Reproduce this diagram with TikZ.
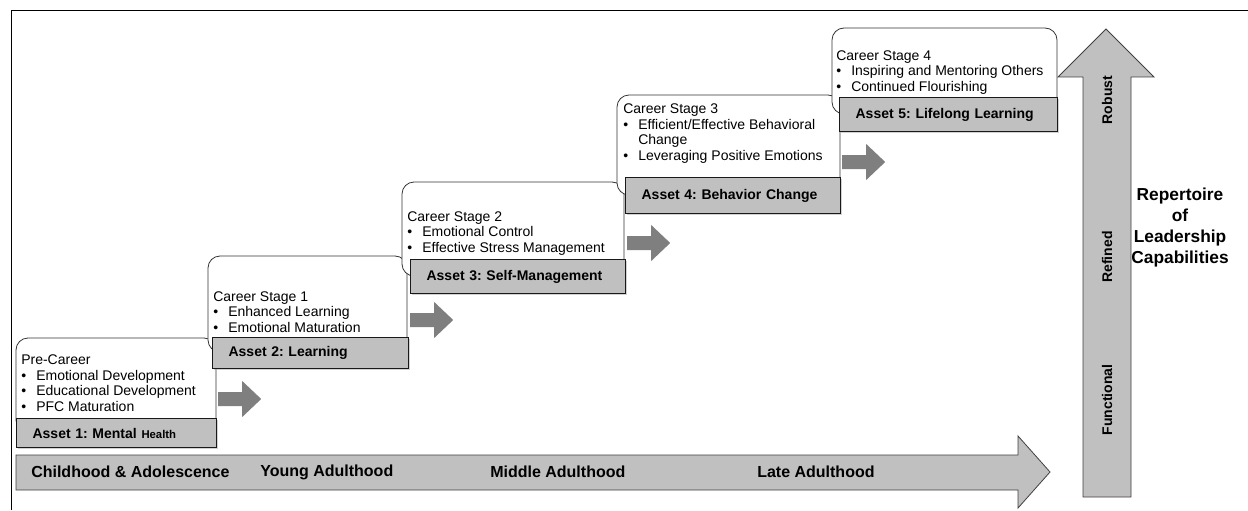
\documentclass[tikz,border=0pt]{standalone}
\usepackage{fontspec}
\setmainfont{Liberation Sans}
\usetikzlibrary{positioning,calc,shadows}
\definecolor{assetgray}{HTML}{C0C0C0}
\definecolor{stepgray}{HTML}{7F7F7F}
\newcommand{\bitem}[1]{\makebox[11.25pt][l]{\textbullet}#1}
\newcommand{\bcont}[1]{\hspace*{11.25pt}#1}
\frenchspacing
\tikzset{
  stagebox/.style={draw=black!80, fill=white, line width=0.6pt, rounded corners=9pt},
  stagetext/.style={font=\fontsize{10.5pt}{11.6pt}\selectfont, align=left,
    inner sep=0pt, anchor=base west},
  assetbox/.style={rectangle, draw=black!90, fill=assetgray, line width=0.9pt,
    font=\fontsize{10.5pt}{12pt}\selectfont\bfseries, align=left,
    inner xsep=12pt, inner ysep=0pt, text width=#1, anchor=north west,
    drop shadow={shadow xshift=0.8pt, shadow yshift=-0.8pt, fill=black!35}},
  bigarrow/.style={draw=black!75, fill=assetgray, line width=0.6pt},
  lifelabel/.style={font=\fontsize{12pt}{14pt}\selectfont\bfseries, anchor=west, inner sep=0pt},
  levellabel/.style={font=\fontsize{10.5pt}{12pt}\selectfont\bfseries, rotate=90, inner sep=0pt},
  steparrow/.pic={\fill[stepgray] (0,-7) -- (24,-7) -- (24,-18) -- (43,0) -- (24,18) -- (24,7) -- (0,7) -- cycle;}
}

\begin{document}
\begin{tikzpicture}[x=0.75pt, y=-0.75pt]
  \useasboundingbox (0,0) rectangle (1248,510);
  % frame
  \draw[line width=0.75pt] (11,510) -- (11,11) -- (1248,11);

  % life span arrow
  \draw[bigarrow] (16,455) -- (1018,455) -- (1018,436) -- (1050,472)
    -- (1018,508) -- (1018,490) -- (16,490) -- cycle;
  \node[lifelabel] (childhood) at (31,472) {Childhood \& Adolescence};
  \node[lifelabel] (young) at (260,472) {Young Adulthood};
  \node[lifelabel] (middle) at (490,472) {Middle Adulthood};
  \node[lifelabel] (late) at (757,472) {Late Adulthood};

  % capability arrow
  \draw[bigarrow] (1083,497) -- (1083,77) -- (1058,77) -- (1106,29)
    -- (1154,77) -- (1131,77) -- (1131,497) -- cycle;
  \node[levellabel] (robust) at (1107,100) {Robust};
  \node[levellabel] (refined) at (1107,257) {Refined};
  \node[levellabel] (functional) at (1107,400) {Functional};
  \node[font=\fontsize{13pt}{15.75pt}\selectfont\bfseries, align=center] (repertoire)
    at (1180,228) {Repertoire\\of\\Leadership\\Capabilities};

  % pre-career (text anchored at its last baseline)
  \draw[stagebox] (16,338) rectangle (216,432);
  \node[stagetext] (t0) at (21,411) {Pre-Career\\
    \bitem{Emotional Development}\\
    \bitem{Educational Development}\\
    \bitem{PFC Maturation}};
  \node[assetbox=126pt, minimum height=21.75pt] (a1) at (16,418)
    {Asset 1: Mental {\fontsize{8.5pt}{10pt}\selectfont Health}};
  \pic at ($(a1.north east)+(1,-19)$) {steparrow};

  % career stage 1
  \draw[stagebox] (208,256) rectangle (407,352);
  \node[stagetext] (t1) at (213,332) {Career Stage 1\\
    \bitem{Enhanced Learning}\\
    \bitem{Emotional Maturation}};
  \node[assetbox=123pt, minimum height=23.25pt] (a2) at (212,337) {Asset 2: Learning};
  \pic at ($(a2.north east)+(1,-17)$) {steparrow};

  % career stage 2
  \draw[stagebox] (402,182) rectangle (624,276);
  \node[stagetext] (t2) at (407,252) {Career Stage 2\\
    \bitem{Emotional Control}\\
    \bitem{Effective Stress Management}};
  \node[assetbox=137.25pt, minimum height=25.5pt] (a3) at (410,259) {Asset 3: Self-Management};
  \pic at ($(a3.north east)+(1,-16)$) {steparrow};

  % career stage 3
  \draw[stagebox] (617,95) rectangle (840,195);
  \node[stagetext] (t3) at (623,160) {Career Stage 3\\
    \bitem{Efficient/Effective Behavioral}\\
    \bcont{Change}\\
    \bitem{Leveraging Positive Emotions}};
  \node[assetbox=137.25pt, minimum height=27pt] (a4) at (625,177) {Asset 4: Behavior Change};
  \pic at ($(a4.north east)+(1,-15)$) {steparrow};

  % career stage 4
  \draw[stagebox] (832,28) rectangle (1057,114);
  \node[stagetext] (t4) at (836,91) {Career Stage 4\\
    \bitem{Inspiring and Mentoring Others}\\
    \bitem{Continued Flourishing}};
  \node[assetbox=139.5pt, minimum height=25.5pt] (a5) at (839,97) {Asset 5: Lifelong Learning};
\end{tikzpicture}
\end{document}
